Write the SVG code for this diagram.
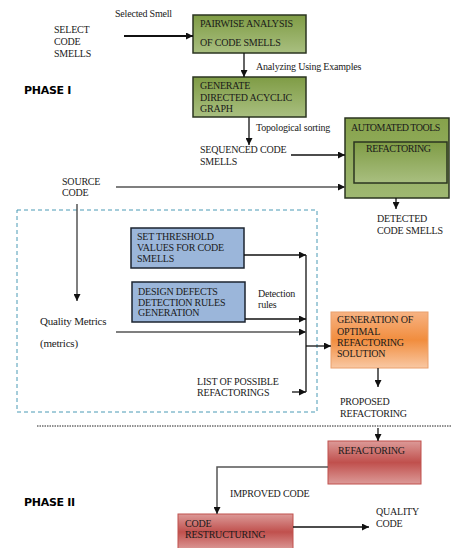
<svg xmlns="http://www.w3.org/2000/svg" width="451" height="548" viewBox="0 0 451 548" font-family="'Liberation Serif', 'Times New Roman', serif">
<defs>
<linearGradient id="gGreen" x1="0" y1="0" x2="0" y2="1"><stop offset="0" stop-color="#7f9c45"/><stop offset="1" stop-color="#a9bf80"/></linearGradient>
<linearGradient id="gGreen2" x1="0" y1="0" x2="0" y2="1"><stop offset="0" stop-color="#86a24a"/><stop offset="1" stop-color="#9fb872"/></linearGradient>
<linearGradient id="gOrange" x1="0" y1="0" x2="0" y2="1"><stop offset="0" stop-color="#f7b383"/><stop offset="0.5" stop-color="#f18d3e"/><stop offset="1" stop-color="#f9c8a3"/></linearGradient>
<linearGradient id="gRed" x1="0" y1="0" x2="0" y2="1"><stop offset="0" stop-color="#dc9a98"/><stop offset="0.5" stop-color="#c0504d"/><stop offset="1" stop-color="#dc9a98"/></linearGradient>
<marker id="ah" viewBox="0 0 10 10" refX="10" refY="5" markerWidth="7" markerHeight="7" markerUnits="userSpaceOnUse" orient="auto"><path d="M0,0 L10,5 L0,10 z" fill="#111"/></marker>
<style>
text{font-family:"Liberation Serif","Times New Roman",serif;font-size:10px;fill:#1a1a1a;letter-spacing:-0.2px}
.ph{font-family:"DejaVu Sans","Liberation Sans",sans-serif;font-weight:900;font-size:11px;fill:#000;letter-spacing:-0.3px}
.ln{fill:none;stroke:#111;stroke-width:1.3}
.lg{fill:none;stroke:#555;stroke-width:1.5}
.green{fill:url(#gGreen);stroke:#2b3520;stroke-width:1.5}
.blue{fill:#9bb6da;stroke:#1c2430;stroke-width:1.5}
.orange{fill:url(#gOrange);stroke:#eaa06c;stroke-width:1}
.red{fill:url(#gRed);stroke:#c0504d;stroke-width:1}
</style>
</defs>

<rect x="17" y="210" width="300" height="202" fill="none" stroke="#4a9ab5" stroke-width="1" stroke-dasharray="4,3"/>
<line x1="37" y1="426" x2="451" y2="426" stroke="#222" stroke-width="1" stroke-dasharray="1.5,1"/>

<g id="labels">
<text x="115" y="17">Selected Smell</text>
<text x="54" y="33">SELECT</text>
<text x="54" y="45">CODE</text>
<text x="54" y="57">SMELLS</text>
<text class="ph" x="24" y="94">PHASE I</text>
<text x="256" y="70">Analyzing Using Examples</text>
<text x="256" y="131">Topological sorting</text>
<text x="200" y="153">SEQUENCED CODE</text>
<text x="200" y="165">SMELLS</text>
<text x="62" y="185">SOURCE</text>
<text x="62" y="196">CODE</text>
<text x="377" y="222">DETECTED</text>
<text x="377" y="234">CODE SMELLS</text>
<text x="40" y="325" style="font-size:11px">Quality Metrics</text>
<text x="40" y="347" style="font-size:11px">(metrics)</text>
<text x="258" y="297">Detection</text>
<text x="258" y="308">rules</text>
<text x="197" y="385">LIST OF POSSIBLE</text>
<text x="197" y="396">REFACTORINGS</text>
<text x="340" y="405">PROPOSED</text>
<text x="340" y="417">REFACTORING</text>
<text class="ph" x="24" y="506">PHASE II</text>
<text x="230" y="497">IMPROVED CODE</text>
<text x="376" y="515">QUALITY</text>
<text x="376" y="527">CODE</text>
</g>

<g id="pairwise">
<rect class="green" x="193" y="15" width="113" height="38"/>
<text x="200" y="27">PAIRWISE ANALYSIS</text>
<text x="200" y="46">OF CODE SMELLS</text>
</g>
<g id="dag">
<rect class="green" x="193" y="77" width="113" height="40"/>
<text x="200" y="89">GENERATE</text>
<text x="200" y="101">DIRECTED ACYCLIC</text>
<text x="200" y="112">GRAPH</text>
</g>
<g id="automated">
<rect class="green" x="345" y="118" width="104" height="80" style="fill:url(#gGreen2)"/>
<text x="351" y="131" style="letter-spacing:-0.5px">AUTOMATED TOOLS</text>
<rect class="green" x="354" y="142" width="93" height="41"/>
<text x="366" y="152" style="letter-spacing:-0.4px">REFACTORING</text>
</g>
<g id="threshold">
<rect class="blue" x="131" y="228" width="113" height="40"/>
<text x="137" y="240">SET THRESHOLD</text>
<text x="137" y="251">VALUES FOR CODE</text>
<text x="137" y="262">SMELLS</text>
</g>
<g id="design">
<rect class="blue" x="132" y="282" width="113" height="40"/>
<text x="138" y="295">DESIGN DEFECTS</text>
<text x="138" y="306">DETECTION RULES</text>
<text x="138" y="316">GENERATION</text>
</g>
<g id="generation">
<rect class="orange" x="331" y="312" width="97" height="56"/>
<text x="337" y="323">GENERATION OF</text>
<text x="337" y="335">OPTIMAL</text>
<text x="337" y="346">REFACTORING</text>
<text x="337" y="357">SOLUTION</text>
</g>
<g id="refactoring">
<rect class="red" x="328" y="441" width="93" height="43"/>
<text x="338" y="454">REFACTORING</text>
</g>
<g id="restructuring">
<rect class="red" x="178" y="514" width="115" height="36"/>
<text x="185" y="527">CODE</text>
<text x="185" y="538">RESTRUCTURING</text>
</g>

<g id="connectors">
<line class="ln" x1="124" y1="36" x2="193" y2="36" marker-end="url(#ah)" style="stroke-width:1.8"/>
<line class="ln" x1="244" y1="53" x2="244" y2="77" marker-end="url(#ah)"/>
<line class="ln" x1="249" y1="117" x2="249" y2="145" marker-end="url(#ah)"/>
<line class="ln" x1="291" y1="155" x2="345" y2="155" marker-end="url(#ah)"/>
<line class="lg" x1="116" y1="187" x2="345" y2="187" marker-end="url(#ah)"/>
<line class="ln" x1="396" y1="198" x2="396" y2="209" marker-end="url(#ah)"/>
<line class="lg" x1="77" y1="204" x2="77" y2="301" marker-end="url(#ah)"/>
<line class="ln" x1="306" y1="255" x2="306" y2="392"/>
<line class="ln" x1="244" y1="255" x2="306" y2="255" marker-end="url(#ah)"/>
<line class="ln" x1="245" y1="319" x2="306" y2="319" marker-end="url(#ah)"/>
<line class="lg" x1="116" y1="332" x2="306" y2="332" marker-end="url(#ah)"/>
<line class="ln" x1="292" y1="392" x2="306" y2="392" marker-end="url(#ah)"/>
<line class="ln" x1="306" y1="346" x2="331" y2="346" marker-end="url(#ah)"/>
<line class="ln" x1="378" y1="368" x2="378" y2="387" marker-end="url(#ah)"/>
<line class="ln" x1="378" y1="428" x2="378" y2="441" marker-end="url(#ah)"/>
<polyline class="lg" points="328,467 217,467 217,514" marker-end="url(#ah)"/>
<line class="ln" x1="293" y1="527" x2="369" y2="527" marker-end="url(#ah)"/>
</g>
</svg>
